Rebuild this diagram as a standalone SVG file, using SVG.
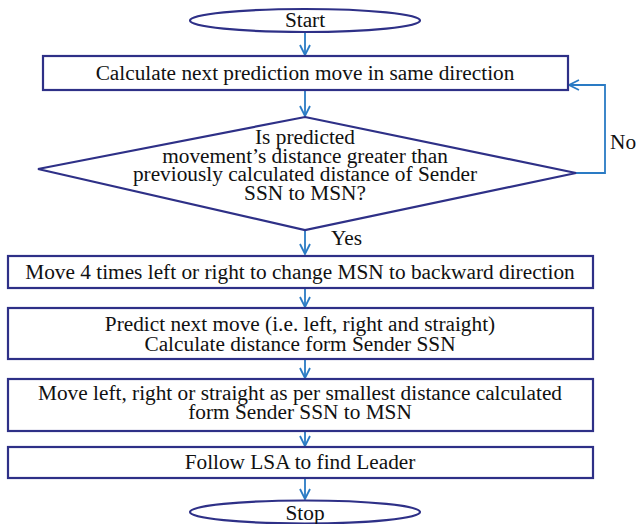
<svg xmlns="http://www.w3.org/2000/svg" width="636" height="524" viewBox="0 0 636 524">
  <style>
    .shape { fill: #ffffff; stroke: #2e3087; stroke-width: 2.2; }
    .lbl { font-family: "Liberation Serif", "DejaVu Serif", serif; font-size: 21.3px; fill: #111111; text-anchor: middle; }
    .side { font-family: "Liberation Serif", "DejaVu Serif", serif; font-size: 21.3px; fill: #111111; }
    .flow { fill: none; stroke: #2a7bc4; stroke-width: 1.8; }
  </style>
  <defs>
    <marker id="vhead" viewBox="0 0 12 12" refX="11" refY="6" markerWidth="12" markerHeight="12" markerUnits="userSpaceOnUse" orient="auto">
      <path d="M1,1 L11,6 L1,11" fill="none" stroke="#2a7bc4" stroke-width="1.8"/>
    </marker>
  </defs>

  <g id="connectors">
    <line class="flow" x1="305" y1="32" x2="305" y2="55" marker-end="url(#vhead)"/>
    <line class="flow" x1="305" y1="91" x2="305" y2="116" marker-end="url(#vhead)"/>
    <polyline class="flow" points="576,173 605,173 605,85 569,85" marker-end="url(#vhead)"/>
    <line class="flow" x1="305" y1="230" x2="305" y2="254" marker-end="url(#vhead)"/>
    <line class="flow" x1="305" y1="289" x2="305" y2="307" marker-end="url(#vhead)"/>
    <line class="flow" x1="305" y1="360" x2="305" y2="378" marker-end="url(#vhead)"/>
    <line class="flow" x1="305" y1="432" x2="305" y2="446" marker-end="url(#vhead)"/>
    <line class="flow" x1="305" y1="479" x2="305" y2="499" marker-end="url(#vhead)"/>
    <text class="side" x="610" y="149">No</text>
    <text class="side" x="331" y="245">Yes</text>
  </g>

  <g id="start">
    <ellipse class="shape" cx="305" cy="20.5" rx="115" ry="11.5"/>
    <text class="lbl" x="305" y="27">Start</text>
  </g>

  <g id="calc-next">
    <rect class="shape" x="43" y="56" width="525" height="34"/>
    <text class="lbl" x="305" y="80">Calculate next prediction move in same direction</text>
  </g>

  <g id="decision">
    <polygon class="shape" points="305,117 576,173 305,230 38,169"/>
    <text class="lbl" x="305" y="144">Is predicted</text>
    <text class="lbl" x="305" y="163">movement’s distance greater than</text>
    <text class="lbl" x="305" y="181">previously calculated distance of Sender</text>
    <text class="lbl" x="305" y="200">SSN to MSN?</text>
  </g>

  <g id="move-back">
    <rect class="shape" x="8" y="256" width="585" height="32"/>
    <text class="lbl" x="300" y="279">Move 4 times left or right to change MSN to backward direction</text>
  </g>

  <g id="predict">
    <rect class="shape" x="8" y="308" width="585" height="51"/>
    <text class="lbl" x="300" y="331">Predict next move (i.e. left, right and straight)</text>
    <text class="lbl" x="300" y="351">Calculate distance form Sender SSN</text>
  </g>

  <g id="move-smallest">
    <rect class="shape" x="8" y="379" width="585" height="52"/>
    <text class="lbl" x="300" y="400">Move left, right or straight as per smallest distance calculated</text>
    <text class="lbl" x="300" y="419">form Sender SSN to MSN</text>
  </g>

  <g id="follow-lsa">
    <rect class="shape" x="8" y="447" width="585" height="31"/>
    <text class="lbl" x="300" y="469">Follow LSA to find Leader</text>
  </g>

  <g id="stop">
    <ellipse class="shape" cx="305" cy="512" rx="115" ry="11.5"/>
    <text class="lbl" x="305" y="520">Stop</text>
  </g>
</svg>
